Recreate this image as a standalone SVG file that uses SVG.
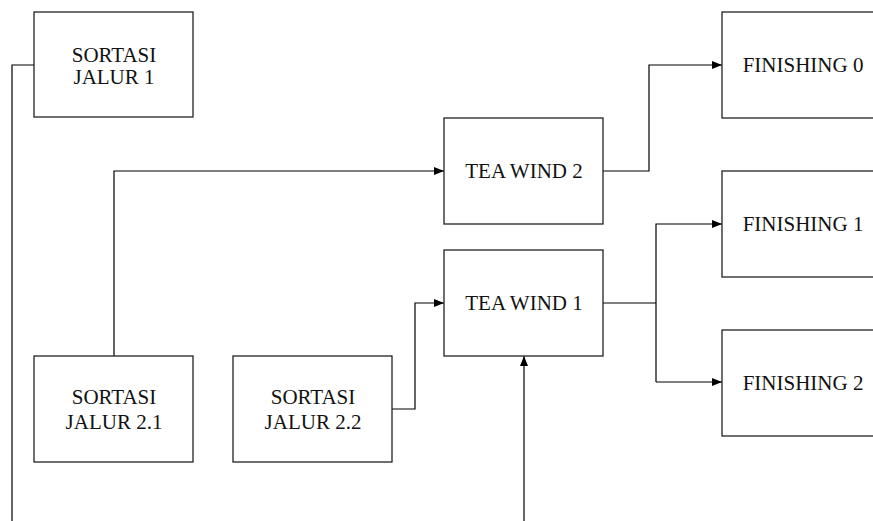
<svg xmlns="http://www.w3.org/2000/svg" width="873" height="521" viewBox="0 0 873 521">
<style>
.box{fill:#fff;stroke:#222;stroke-width:1.3}
.t{font-family:"Liberation Serif","Times New Roman",serif;font-size:21px;fill:#111;text-anchor:middle}
.c{fill:none;stroke:#000;stroke-width:1.2}
</style>
<defs>
<marker id="ah" viewBox="0 0 10 8" refX="10" refY="4" markerWidth="10" markerHeight="8" markerUnits="userSpaceOnUse" orient="auto">
<path d="M0,0 L10,4 L0,8 Z" fill="#000"/>
</marker>
</defs>
<rect width="873" height="521" fill="#fff"/>
<g id="connectors">
<polyline class="c" points="34,65 12,65 12,521"/>
<polyline class="c" points="114,356 114,171 444,171" marker-end="url(#ah)"/>
<polyline class="c" points="603,171 649,171 649,65 722,65" marker-end="url(#ah)"/>
<polyline class="c" points="392,409 415,409 415,303 444,303" marker-end="url(#ah)"/>
<polyline class="c" points="603,303 656,303"/>
<polyline class="c" points="656,382 656,224 722,224" marker-end="url(#ah)"/>
<polyline class="c" points="656,382 722,382" marker-end="url(#ah)"/>
<polyline class="c" points="524,521 524,356" marker-end="url(#ah)"/>
</g>
<g id="sortasi1"><rect class="box" x="34" y="12" width="159" height="105"/><text class="t" x="114" y="62">SORTASI</text><text class="t" x="114" y="84">JALUR 1</text></g>
<g id="teawind2"><rect class="box" x="444" y="118" width="159" height="106"/><text class="t" x="524" y="178">TEA WIND 2</text></g>
<g id="teawind1"><rect class="box" x="444" y="250" width="159" height="106"/><text class="t" x="524" y="310">TEA WIND 1</text></g>
<g id="finishing0"><rect class="box" x="722" y="12" width="159" height="106"/><text class="t" x="803" y="72">FINISHING 0</text></g>
<g id="finishing1"><rect class="box" x="722" y="171" width="159" height="106"/><text class="t" x="803" y="231">FINISHING 1</text></g>
<g id="finishing2"><rect class="box" x="722" y="330" width="159" height="106"/><text class="t" x="803" y="390">FINISHING 2</text></g>
<g id="sortasi21"><rect class="box" x="34" y="356" width="159" height="106"/><text class="t" x="114" y="404">SORTASI</text><text class="t" x="114" y="429">JALUR 2.1</text></g>
<g id="sortasi22"><rect class="box" x="233" y="356" width="159" height="106"/><text class="t" x="313" y="404">SORTASI</text><text class="t" x="313" y="429">JALUR 2.2</text></g>
</svg>
